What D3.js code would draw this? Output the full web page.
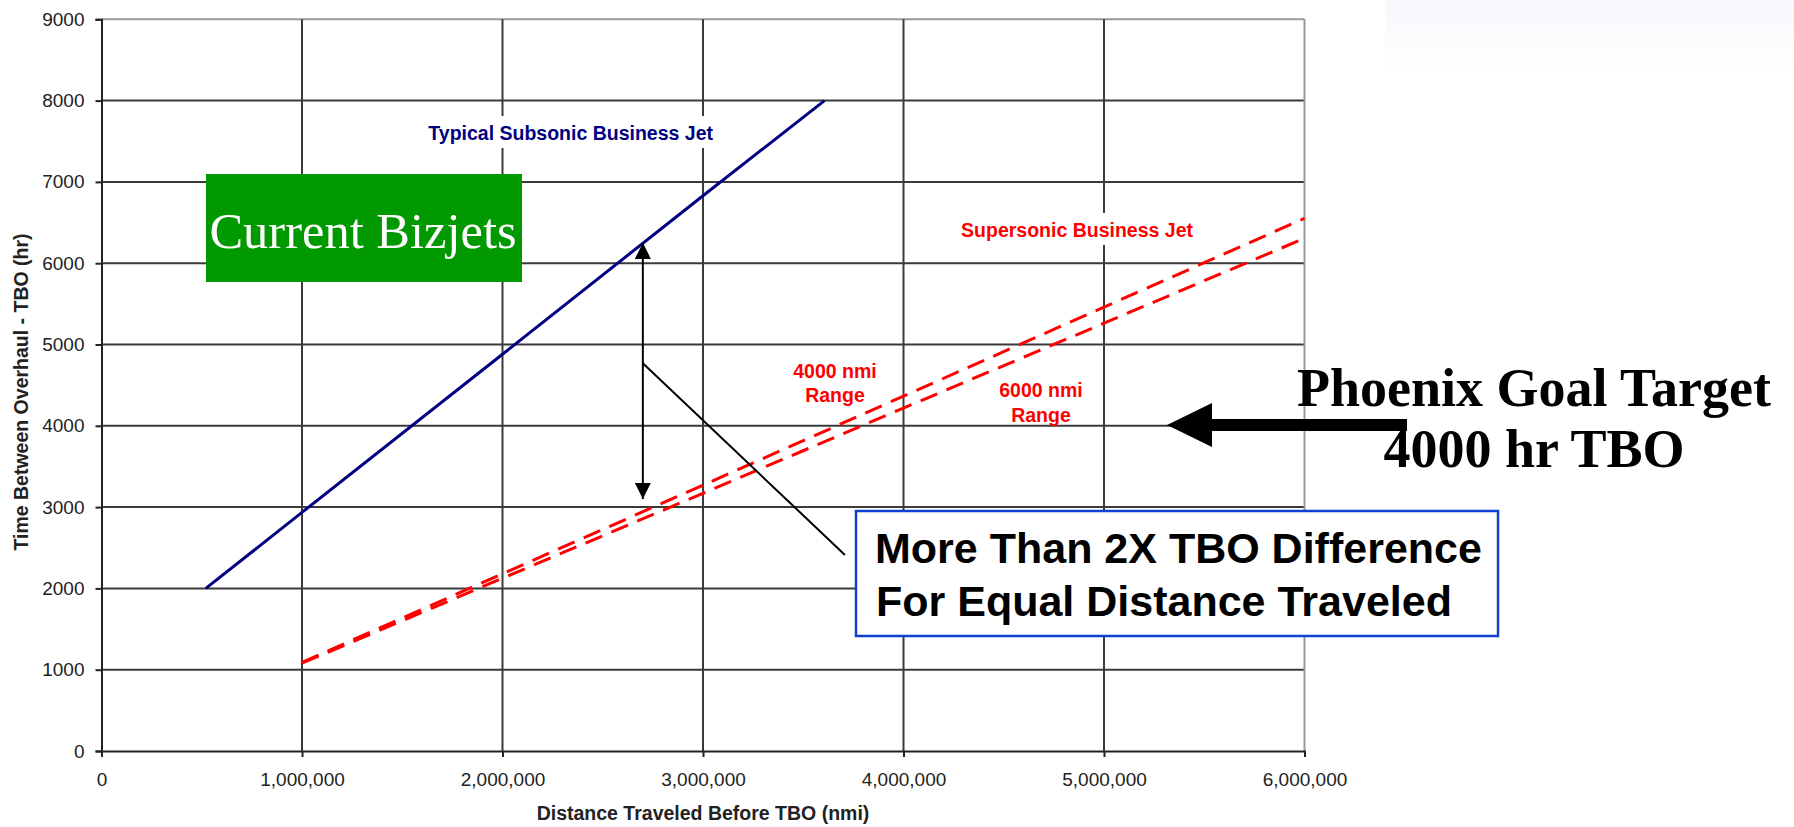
<!DOCTYPE html>
<html>
<head>
<meta charset="utf-8">
<title>TBO vs Distance Traveled</title>
<script src="https://cdn.jsdelivr.net/npm/d3@7/dist/d3.min.js"></script>
<style>
    body { margin: 0; background: #fff; }
    .tick text { font-family: "Liberation Sans", Arial, sans-serif; font-size: 19px; fill: #222; }
</style>
</head>
<body>
<div id="chart"></div>
<script>
// Distance traveled before overhaul (nmi) and resulting TBO (hr)
var subsonicDistance = [520000, 1000000, 2000000, 3000000, 3606000];
var subsonicTbo = [2000, 2935, 4880, 6830, 8000];

var supersonicDistance = [1000000, 2000000, 3000000, 4000000, 5000000, 6000000];
var supersonic4000Tbo = [1090, 2180, 3270, 4365, 5460, 6552];
var supersonic6000Tbo = [1080, 2125, 3170, 4218, 5262, 6306];

var xTicks = [0, 1000000, 2000000, 3000000, 4000000, 5000000, 6000000];
var yTicks = [0, 1000, 2000, 3000, 4000, 5000, 6000, 7000, 8000, 9000];

var width = 1794, height = 827;

var x = d3.scaleLinear()
        .domain([0, 6000000])
        .range([101.5, 1304.5]);

var y = d3.scaleLinear()
        .domain([0, 9000])
        .range([751, 19.3]);

var svg = d3.select('#chart')
        .append('svg')
        .attr('width', width)
        .attr('height', height);

// faint wash in the top right corner
var defs = svg.append('defs');
var wash = defs.append('linearGradient')
        .attr('id', 'wash')
        .attr('x1', '0').attr('y1', '0').attr('x2', '0').attr('y2', '1');
wash.append('stop').attr('offset', '0').attr('stop-color', '#f7f7fd');
wash.append('stop').attr('offset', '1').attr('stop-color', '#ffffff');
svg.append('rect')
        .attr('x', 1385).attr('y', 0)
        .attr('width', width - 1385).attr('height', 70)
        .attr('fill', 'url(#wash)');

// grid lines
var grid = svg.append('g').attr('class', 'grid');
grid.selectAll('line.h')
        .data(yTicks.slice(1))
        .enter().append('line')
        .attr('class', 'h')
        .attr('x1', x(0)).attr('x2', x(6000000))
        .attr('y1', function (d) { return y(d); })
        .attr('y2', function (d) { return y(d); })
        .attr('stroke', function (d) { return d === 9000 ? '#999' : '#3a3a3a'; })
        .attr('stroke-width', 2);
grid.selectAll('line.v')
        .data(xTicks.slice(1))
        .enter().append('line')
        .attr('class', 'v')
        .attr('y1', y(0)).attr('y2', y(9000))
        .attr('x1', function (d) { return x(d); })
        .attr('x2', function (d) { return x(d); })
        .attr('stroke', function (d) { return d === 6000000 ? '#999' : '#3a3a3a'; })
        .attr('stroke-width', 2);

// axes
var xAxis = d3.axisBottom(x)
        .tickValues(xTicks)
        .tickSize(6)
        .tickPadding(16)
        .tickFormat(d3.format(','));
var yAxis = d3.axisLeft(y)
        .tickValues(yTicks)
        .tickSize(6)
        .tickPadding(11)
        .tickFormat(d3.format('d'));

svg.append('g')
        .attr('transform', 'translate(0,' + y(0) + ')')
        .call(xAxis)
        .call(function (g) {
            g.select('.domain').attr('stroke', '#222').attr('stroke-width', 2);
            g.selectAll('.tick line').attr('stroke', '#222').attr('stroke-width', 2);
        });
svg.append('g')
        .attr('transform', 'translate(' + x(0) + ',0)')
        .call(yAxis)
        .call(function (g) {
            g.select('.domain').attr('stroke', '#222').attr('stroke-width', 2);
            g.selectAll('.tick line').attr('stroke', '#222').attr('stroke-width', 2);
        });

// axis titles
svg.append('text')
        .attr('x', 703).attr('y', 820)
        .attr('text-anchor', 'middle')
        .style('font', 'bold 19.5px "Liberation Sans", Arial, sans-serif')
        .attr('fill', '#222')
        .text('Distance Traveled Before TBO (nmi)');
svg.append('text')
        .attr('transform', 'translate(28,392) rotate(-90)')
        .attr('text-anchor', 'middle')
        .style('font', 'bold 19.5px "Liberation Sans", Arial, sans-serif')
        .attr('fill', '#222')
        .text('Time Between Overhaul - TBO (hr)');

// series lines
var line = d3.line()
        .x(function (d) { return x(d[0]); })
        .y(function (d) { return y(d[1]); });

svg.append('path')
        .datum(d3.zip(subsonicDistance, subsonicTbo))
        .attr('d', line)
        .attr('fill', 'none')
        .attr('stroke', '#000080')
        .attr('stroke-width', 3);

[supersonic4000Tbo, supersonic6000Tbo].forEach(function (tbo) {
    svg.append('path')
            .datum(d3.zip(supersonicDistance, tbo))
            .attr('d', line)
            .attr('fill', 'none')
            .attr('stroke', '#ff0000')
            .attr('stroke-width', 3)
            .attr('stroke-dasharray', '18,10');
});

// series labels, with a white patch behind like the spreadsheet did
function label(text, xPos, yPos, color, anchor, boxed) {
    var t = svg.append('text')
            .attr('x', xPos).attr('y', yPos)
            .attr('text-anchor', anchor)
            .style('font', 'bold 19.5px "Liberation Sans", Arial, sans-serif')
            .attr('fill', color)
            .text(text);
    if (boxed) {
        var b = t.node().getBBox();
        svg.insert('rect', function () { return t.node(); })
                .attr('x', b.x - 4).attr('y', b.y - 6)
                .attr('width', b.width + 8).attr('height', b.height + 10)
                .attr('fill', '#fff');
    }
}
label('Typical Subsonic Business Jet', 713, 140, '#000080', 'end', true);
label('Supersonic Business Jet', 1193, 237, '#ff0000', 'end', true);
label('4000 nmi', 835, 378, '#ff0000', 'middle', false);
label('Range', 835, 402, '#ff0000', 'middle', false);
label('6000 nmi', 1041, 397, '#ff0000', 'middle', false);
label('Range', 1041, 422, '#ff0000', 'middle', false);

// green "Current Bizjets" box
svg.append('rect')
        .attr('x', 206).attr('y', 174)
        .attr('width', 316).attr('height', 108)
        .attr('fill', '#009900');
svg.append('text')
        .attr('x', 363).attr('y', 248)
        .attr('text-anchor', 'middle')
        .style('font', '50.5px "Liberation Serif", "Times New Roman", serif')
        .attr('fill', '#fff')
        .text('Current Bizjets');

// double headed arrow between the curves at 2.7M nmi
var marker = defs.append('marker')
        .attr('id', 'head')
        .attr('viewBox', '0 0 10 10')
        .attr('refX', 10).attr('refY', 5)
        .attr('markerWidth', 8).attr('markerHeight', 8)
        .attr('markerUnits', 'strokeWidth')
        .attr('orient', 'auto-start-reverse');
marker.append('path')
        .attr('d', 'M0,0 L10,5 L0,10 Z')
        .attr('fill', '#000');
svg.append('line')
        .attr('x1', x(2700000)).attr('x2', x(2700000))
        .attr('y1', y(6250)).attr('y2', y(3100))
        .attr('stroke', '#000')
        .attr('stroke-width', 2)
        .attr('marker-start', 'url(#head)')
        .attr('marker-end', 'url(#head)');

// leader line to the callout
svg.append('line')
        .attr('x1', x(2700000)).attr('y1', y(4770))
        .attr('x2', x(3708000)).attr('y2', y(2411))
        .attr('stroke', '#000')
        .attr('stroke-width', 2);

// callout box
svg.append('rect')
        .attr('x', 856).attr('y', 511)
        .attr('width', 642).attr('height', 125)
        .attr('fill', '#fff')
        .attr('stroke', '#1040d0')
        .attr('stroke-width', 2.5);
svg.append('text')
        .attr('x', 875).attr('y', 563)
        .style('font', 'bold 43px "Liberation Sans", Arial, sans-serif')
        .attr('fill', '#000')
        .text('More Than 2X TBO Difference');
svg.append('text')
        .attr('x', 876).attr('y', 616)
        .style('font', 'bold 43px "Liberation Sans", Arial, sans-serif')
        .attr('fill', '#000')
        .text('For Equal Distance Traveled');

// goal arrow pointing at 4000 hr
svg.append('path')
        .attr('d', 'M1167,425 L1212,403 L1212,419 L1407,419 L1407,431 L1212,431 L1212,447 Z')
        .attr('fill', '#000');
svg.append('text')
        .attr('x', 1534).attr('y', 406)
        .attr('text-anchor', 'middle')
        .style('font', 'bold 54px "Liberation Serif", "Times New Roman", serif')
        .attr('fill', '#000')
        .text('Phoenix Goal Target');
svg.append('text')
        .attr('x', 1534).attr('y', 467)
        .attr('text-anchor', 'middle')
        .style('font', 'bold 54px "Liberation Serif", "Times New Roman", serif')
        .attr('fill', '#000')
        .text('4000 hr TBO');
</script>
</body>
</html>
